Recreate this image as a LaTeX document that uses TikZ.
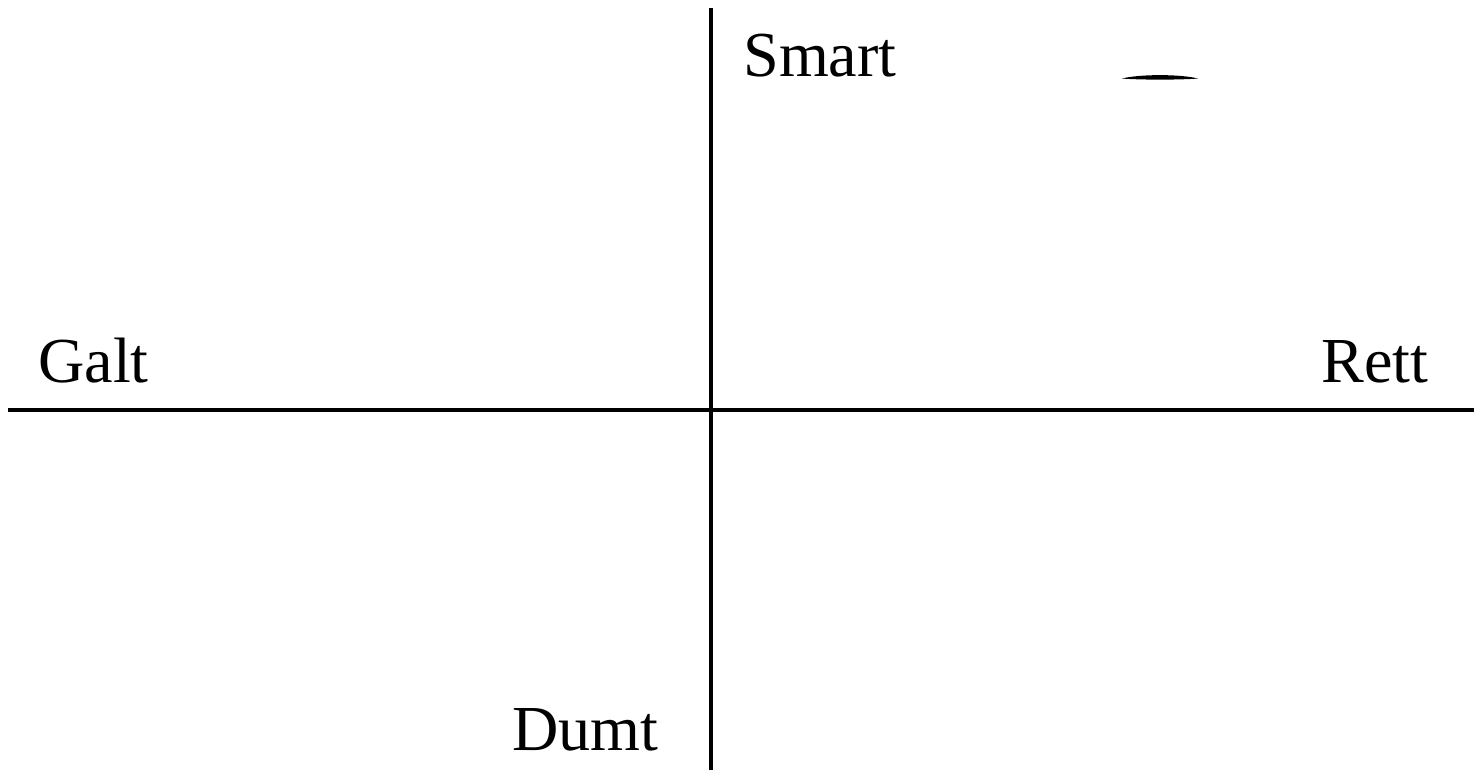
\documentclass[tikz,border=0pt]{standalone}
\usepackage{fontspec}
\setmainfont{Liberation Serif}
\begin{document}
\begin{tikzpicture}[x=0.02cm,y=-0.02cm,
  axis/.style={line width=2pt,black},
  lbl/.style={inner sep=0pt,anchor=base west,font=\fontsize{36.5}{40}\selectfont}]
\useasboundingbox (0,0) rectangle (1474,770);
\coordinate (top) at (711,8);
\coordinate (bottom) at (711,770);
\coordinate (left) at (8,410);
\coordinate (right) at (1474,410);
\draw[axis] (top) -- (bottom);
\draw[axis] (left) -- (right);
\node[lbl] (smart) at (743,77) {Smart};
\node[lbl] (galt) at (38,382) {Galt};
\node[lbl] (rett) at (1321,382) {Rett};
\node[lbl] (dumt) at (512,750) {Dumt};
\fill[black] (1122,78.5) .. controls (1140,74) and (1180,74) .. (1198,78.5)
  .. controls (1180,80) and (1140,80) .. (1122,78.5) -- cycle;
\end{tikzpicture}
\end{document}
